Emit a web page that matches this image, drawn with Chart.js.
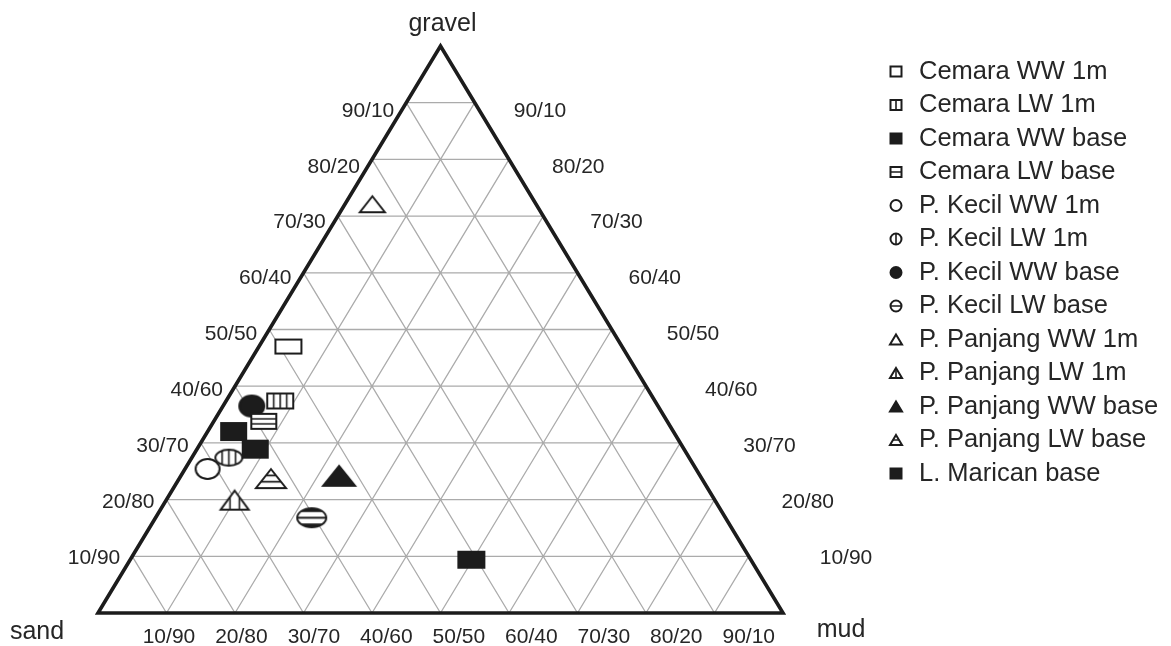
<!DOCTYPE html>
<html>
<head>
<meta charset="utf-8">
<title>Ternary diagram: gravel / sand / mud</title>
<script src="https://cdn.jsdelivr.net/npm/chart.js@4.4.1/dist/chart.umd.min.js"></script>
<style>
  html, body { margin: 0; padding: 0; background: #ffffff; }
  #wrap { width: 1171px; height: 646px; position: relative; }
  canvas { display: block; }
</style>
</head>
<body>
<div id="wrap"><canvas id="chart" width="1171" height="646"></canvas></div>
<script>
// ---- sample series (percent gravel / sand / mud for each sample) ----
const SERIES = [
  'Cemara WW 1m', 'Cemara LW 1m', 'Cemara WW base', 'Cemara LW base',
  'P. Kecil WW 1m', 'P. Kecil LW 1m', 'P. Kecil WW base', 'P. Kecil LW base',
  'P. Panjang WW 1m', 'P. Panjang LW 1m', 'P. Panjang WW base', 'P. Panjang LW base',
  'L. Marican base'
];
const GRAVEL = [[47.0], [37.4], [32.0, 28.9], [33.8], [25.4], [27.4], [36.5], [16.8], [72.1], [19.9], [24.2], [23.7], [9.4]];
const SAND   = [[48.7], [54.7], [64.2, 62.6], [58.9], [71.3], [67.2], [59.3], [60.4], [23.9], [70.1], [52.7], [62.9], [40.8]];
const MUD    = [[4.3],  [7.9],  [3.8, 8.5],   [7.3],  [3.3],  [5.4],  [4.2],  [22.8], [4.0],  [10.0], [23.1], [13.4], [49.8]];

// ---- axis tick labels ----
const GRID_STEPS   = [10, 20, 30, 40, 50, 60, 70, 80, 90];
const LEFT_TICKS   = ['10/90', '20/80', '30/70', '40/60', '50/50', '60/40', '70/30', '80/20', '90/10'];
const RIGHT_TICKS  = ['10/90', '20/80', '30/70', '40/60', '50/50', '60/40', '70/30', '80/20', '90/10'];
const BOTTOM_TICKS = ['10/90', '20/80', '30/70', '40/60', '50/50', '60/40', '70/30', '80/20', '90/10'];
const CORNERS = { top: 'gravel', left: 'sand', right: 'mud' };

// ---- marker appearance per series ----
const STYLES = [
  { shape: 'rect',     fill: 'open',  w: 26, h: 14, n: 0, order: 2 },
  { shape: 'rect',     fill: 'v',     w: 26, h: 15, n: 3, order: 1 },
  { shape: 'rect',     fill: 'solid', w: 25, h: 17, n: 0, order: 3 },
  { shape: 'rect',     fill: 'h',     w: 25, h: 15, n: 2, order: 1 },
  { shape: 'ellipse',  fill: 'open',  w: 24, h: 20, n: 0, order: 6 },
  { shape: 'ellipse',  fill: 'v',     w: 27, h: 16, n: 3, order: 5 },
  { shape: 'ellipse',  fill: 'solid', w: 25, h: 21, n: 0, order: 7 },
  { shape: 'ellipse',  fill: 'hx',    w: 29, h: 19, n: 3, order: 1 },
  { shape: 'triangle', fill: 'open',  w: 25, h: 16, n: 0, order: 1 },
  { shape: 'triangle', fill: 'v',     w: 28, h: 19, n: 2, order: 1 },
  { shape: 'triangle', fill: 'solid', w: 32, h: 20, n: 0, order: 1 },
  { shape: 'triangle', fill: 'h',     w: 30, h: 19, n: 2, order: 1 },
  { shape: 'rect',     fill: 'solid', w: 26, h: 16, n: 0, order: 1 }
];

const INK  = '#1c1c1c';
const TEXT = '#262626';
const GRID = '#ababab';
const FONT = '"Liberation Sans", Arial, Helvetica, sans-serif';

function traceShape(ctx, shape, cx, cy, w, h) {
  ctx.beginPath();
  if (shape === 'rect') {
    ctx.rect(cx - w / 2, cy - h / 2, w, h);
  } else if (shape === 'ellipse') {
    ctx.ellipse(cx, cy, w / 2, h / 2, 0, 0, Math.PI * 2);
  } else {
    ctx.moveTo(cx, cy - h / 2);
    ctx.lineTo(cx + w / 2, cy + h / 2);
    ctx.lineTo(cx - w / 2, cy + h / 2);
    ctx.closePath();
  }
}

function paintMarker(ctx, st, cx, cy, w, h, lw, n) {
  traceShape(ctx, st.shape, cx, cy, w, h);
  ctx.fillStyle = st.fill === 'solid' ? INK : '#ffffff';
  ctx.fill();
  if (st.fill === 'v' || st.fill === 'h' || st.fill === 'hx') {
    ctx.save();
    traceShape(ctx, st.shape, cx, cy, w, h);
    ctx.clip();
    ctx.strokeStyle = INK;
    ctx.fillStyle = INK;
    ctx.beginPath();
    if (st.fill === 'v') {
      ctx.lineWidth = lw * 0.8;
      for (let i = 1; i <= n; i++) {
        const xx = cx - w / 2 + (w * i) / (n + 1);
        ctx.moveTo(xx, cy - h); ctx.lineTo(xx, cy + h);
      }
      ctx.stroke();
    } else if (st.fill === 'h') {
      ctx.lineWidth = lw * 0.8;
      for (let i = 1; i <= n; i++) {
        const yy = cy - h / 2 + (h * i) / (n + 1);
        ctx.moveTo(cx - w, yy); ctx.lineTo(cx + w, yy);
      }
      ctx.stroke();
    } else {
      // banded ellipse: heavy caps with a bar through the middle
      ctx.lineWidth = lw * 1.1;
      ctx.moveTo(cx - w, cy); ctx.lineTo(cx + w, cy);
      ctx.stroke();
      ctx.fillRect(cx - w, cy - h / 2 - 2, 2 * w, h * 0.2 + 2);
      ctx.fillRect(cx - w, cy + h / 2 - h * 0.2, 2 * w, h * 0.2 + 2);
    }
    ctx.restore();
  }
  traceShape(ctx, st.shape, cx, cy, w, h);
  ctx.lineWidth = lw;
  ctx.lineJoin = 'miter';
  ctx.strokeStyle = INK;
  ctx.stroke();
}

function markerImage(st) {
  const pad = 4;
  const c = document.createElement('canvas');
  c.width = st.w + pad * 2;
  c.height = st.h + pad * 2;
  const ctx = c.getContext('2d');
  paintMarker(ctx, st, c.width / 2, c.height / 2, st.w, st.h, 2, st.n);
  return c;
}

// cartesian placement of a ternary composition (x: mud + gravel/2, y: gravel)
function toXY(g, s, m) {
  const t = g + s + m;
  const gg = (100 * g) / t, mm = (100 * m) / t;
  return { x: mm + gg / 2, y: gg };
}

const datasets = SERIES.map((name, i) => ({
  label: name,
  data: GRAVEL[i].map((g, j) => toXY(g, SAND[i][j], MUD[i][j])),
  pointStyle: markerImage(STYLES[i]),
  pointRadius: 10,
  order: STYLES[i].order,
  clip: false
}));

const ternaryPlugin = {
  id: 'ternaryFrame',
  beforeDatasetsDraw(chart) {
    const { ctx, scales: { x, y } } = chart;
    const P = (g, m) => [x.getPixelForValue(m + g / 2), y.getPixelForValue(g)];
    const seg = (a, b) => { ctx.moveTo(a[0], a[1]); ctx.lineTo(b[0], b[1]); };
    ctx.save();
    ctx.strokeStyle = GRID;
    ctx.lineWidth = 1.3;
    ctx.beginPath();
    GRID_STEPS.forEach(k => {
      seg(P(k, 0), P(k, 100 - k));        // equal gravel
      seg(P(0, k), P(100 - k, k));        // equal mud
      seg(P(0, 100 - k), P(100 - k, 0));  // equal sand
    });
    ctx.stroke();

    ctx.strokeStyle = INK;
    ctx.lineWidth = 3.6;
    ctx.lineJoin = 'miter';
    ctx.beginPath();
    const a = P(0, 0), b = P(100, 0), c = P(0, 100);
    ctx.moveTo(a[0], a[1]); ctx.lineTo(b[0], b[1]); ctx.lineTo(c[0], c[1]);
    ctx.closePath();
    ctx.stroke();
    ctx.restore();
  },
  afterDraw(chart) {
    const { ctx, scales: { x, y } } = chart;
    const P = (g, m) => [x.getPixelForValue(m + g / 2), y.getPixelForValue(g)];
    ctx.save();
    ctx.fillStyle = TEXT;
    ctx.textBaseline = 'middle';
    ctx.font = '21px ' + FONT;

    // left edge: gravel/sand
    ctx.textAlign = 'right';
    GRID_STEPS.forEach((g, i) => {
      const p = P(g, 0);
      ctx.fillText(LEFT_TICKS[i], p[0] - 12, p[1] + 1 + 0.08 * g);
    });
    // right edge: gravel/mud
    ctx.textAlign = 'left';
    GRID_STEPS.forEach((g, i) => {
      const p = P(g, 100 - g);
      ctx.fillText(RIGHT_TICKS[i], p[0] + 35 + 0.4 * (100 - g), p[1] + 1 + 0.08 * g);
    });
    // base: mud/sand
    ctx.textAlign = 'center';
    GRID_STEPS.forEach((m, i) => {
      const px = x.getPixelForValue(10.36 + 10.58 * i);
      ctx.fillText(BOTTOM_TICKS[i], px, y.getPixelForValue(0) + 24);
    });

    // corner names
    ctx.font = '25px ' + FONT;
    const top = P(100, 0), left = P(0, 0), right = P(0, 100);
    ctx.textAlign = 'center';
    ctx.fillText(CORNERS.top, top[0] + 2, top[1] - 22);
    ctx.fillText(CORNERS.left, left[0] - 61, left[1] + 19);
    ctx.fillText(CORNERS.right, right[0] + 58, right[1] + 17);

    // legend
    ctx.font = '25.5px ' + FONT;
    ctx.textAlign = 'left';
    const lx = 896, ly = 70.5, step = 33.5;
    SERIES.forEach((name, i) => {
      const st = STYLES[i];
      const cy = ly + i * step;
      let w = 11, h = 10;
      if (st.shape === 'ellipse') { w = 11; h = 11; }
      if (st.shape === 'triangle') { w = 12; h = 10; }
      const n = st.fill === 'solid' || st.fill === 'open' ? 0 : 1;
      const small = { shape: st.shape, fill: st.fill === 'hx' ? 'h' : st.fill };
      paintMarker(ctx, small, lx, cy + 1, w, h, 2, n);
      ctx.fillStyle = TEXT;
      ctx.fillText(name, lx + 23, cy + 1);
    });
    ctx.restore();
  }
};

new Chart(document.getElementById('chart'), {
  type: 'scatter',
  data: { datasets },
  options: {
    responsive: false,
    devicePixelRatio: 1,
    animation: false,
    events: [],
    layout: { padding: { left: 98, right: 388, top: 46, bottom: 33 } },
    scales: {
      x: { type: 'linear', min: 0, max: 100, display: false },
      y: { type: 'linear', min: 0, max: 100, display: false }
    },
    plugins: { legend: { display: false }, tooltip: { enabled: false } }
  },
  plugins: [ternaryPlugin]
});
</script>
</body>
</html>
